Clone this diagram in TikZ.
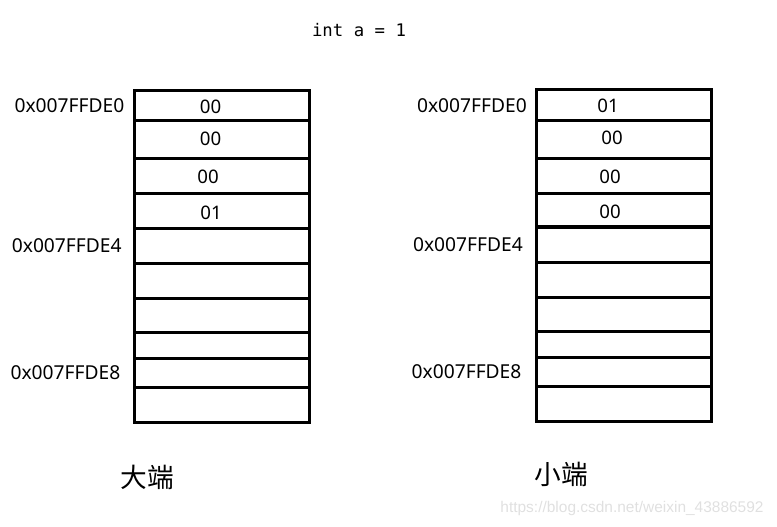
\documentclass[tikz,border=0pt]{standalone}
\usepackage{fontspec}
\setmainfont{Noto Sans}
\newfontfamily\cjkfont{Noto Sans CJK SC}
\newfontfamily\codefont{DejaVu Sans Mono}
\newfontfamily\markfont{Liberation Sans}
\usetikzlibrary{positioning}

\begin{document}
\begin{tikzpicture}[
    x=0.75pt, y=-0.75pt,
    cell/.style={draw, rectangle, line width=2.25pt, minimum width=131.25pt, inner sep=0pt},
    val/.style={inner sep=0pt, font={\fontsize{14}{16}\selectfont}},
    addr/.style={inner sep=0pt, font={\fontsize{14.4}{16}\selectfont}},
    title/.style={inner sep=0pt, font={\codefont\fontsize{13}{15}\selectfont}},
    endian/.style={inner sep=0pt, font={\cjkfont\fontsize{20}{24}\selectfont}},
    watermark/.style={inner sep=0pt, text=black!12, font={\markfont\fontsize{11.6}{13}\selectfont}}
  ]
  \useasboundingbox (0,0) rectangle (777,527);

  \node[title] (code) at (359,30) {int a = 1};

  % big endian column
  \foreach \i/\ya/\yb in {1/91/121, 2/121/159, 3/159/194, 4/194/228, 5/228/263,
                          6/263/298, 7/298/332, 8/332/358, 9/358/387, 10/387/422}
    \node[cell, minimum height={(\yb-\ya)*0.75pt}] (big\i) at (221.5,{(\ya+\yb)/2}) {};

  \node[val] (bigval1) at (210.5,107) {00};
  \node[val] (bigval2) at (210.5,139) {00};
  \node[val] (bigval3) at (208,177) {00};
  \node[val] (bigval4) at (211,213) {01};

  \node[addr, left=6pt of big1] (bigaddr0) {0x007FFDE0};
  \node[addr, left=8pt of big5] (bigaddr4) {0x007FFDE4};
  \node[addr, left=9pt of big9] (bigaddr8) {0x007FFDE8};

  \node[endian] (biglabel) at (147,477) {大端};

  % little endian column
  \foreach \i/\ya/\yb in {1/90/121, 2/121/159, 3/159/194, 4/194/227, 5/227/262,
                          6/262/297, 7/297/331, 8/331/357, 9/357/386, 10/386/421}
    \node[cell, minimum height={(\yb-\ya)*0.75pt}] (little\i) at (624,{(\ya+\yb)/2}) {};

  \node[val] (littleval1) at (608,106) {01};
  \node[val] (littleval2) at (612,138) {00};
  \node[val] (littleval3) at (610,177) {00};
  \node[val] (littleval4) at (610,212) {00};

  \node[addr, left=6pt of little1] (littleaddr0) {0x007FFDE0};
  \node[addr, left=9pt of little5] (littleaddr4) {0x007FFDE4};
  \node[addr, left=10pt of little9] (littleaddr8) {0x007FFDE8};

  \node[endian] (littlelabel) at (561,474) {小端};

  \node[watermark] (mark) at (632,508) {https://blog.csdn.net/weixin\_43886592};
\end{tikzpicture}
\end{document}
